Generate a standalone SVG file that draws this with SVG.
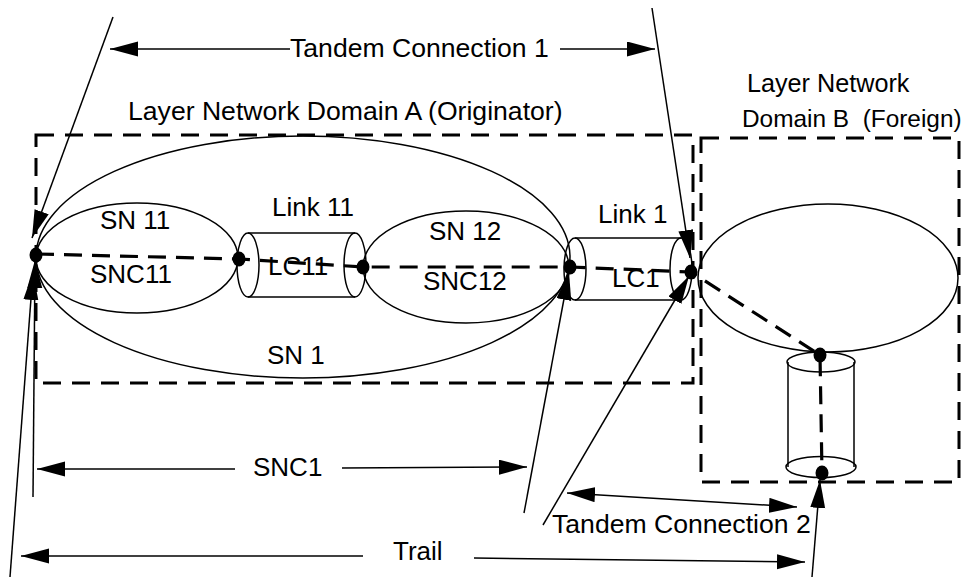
<svg xmlns="http://www.w3.org/2000/svg" width="967" height="579" viewBox="0 0 967 579">
<style>
text { font-family: "Liberation Sans", Arial, sans-serif; font-size: 26px; fill: #000; }
.big { font-size: 26.6px; }
.domb { font-size: 25.2px; }
.domb2 { font-size: 24.4px; }
.thin { fill: none; stroke: #000; stroke-width: 1.5; }
.box { fill: none; stroke: #000; stroke-width: 3; stroke-dasharray: 18 11; }
.path { fill: none; stroke: #000; stroke-width: 3.2; stroke-dasharray: 18 10; }
.arrow { fill: none; stroke: #000; stroke-width: 1.5; }
.dot { fill: #000; }
</style>
<defs>
<marker id="ah" markerUnits="userSpaceOnUse" markerWidth="30" markerHeight="16" refX="28" refY="7.5" orient="auto-start-reverse">
<path d="M0,0 L28,7.5 L0,15 z" fill="#000"/>
</marker>
</defs>

<g id="domainA">
<rect class="box" x="36" y="135" width="657" height="248"/>
<text class="big" x="128" y="120">Layer Network Domain A (Originator)</text>
</g>
<g id="domainB">
<rect class="box" x="701" y="138" width="258" height="344"/>
<text class="domb" x="747" y="92">Layer Network</text>
<text class="domb2" x="742" y="127" xml:space="preserve">Domain B  (Foreign)</text>
</g>

<g id="SN1">
<ellipse class="thin" cx="303" cy="257" rx="267" ry="121"/>
<text x="267" y="364">SN 1</text>
</g>
<g id="SN11">
<ellipse class="thin" cx="137" cy="258" rx="101" ry="55"/>
<text x="100" y="229">SN 11</text>
<text x="90" y="283">SNC11</text>
</g>
<g id="Link11">
<line class="thin" x1="248" y1="233" x2="355" y2="233"/>
<line class="thin" x1="248" y1="297" x2="355" y2="297"/>
<ellipse class="thin" cx="248" cy="265" rx="11" ry="32"/>
<ellipse class="thin" cx="355" cy="265" rx="11" ry="32"/>
<text x="272" y="216">Link 11</text>
<text x="268" y="275">LC11</text>
</g>
<g id="SN12">
<ellipse class="thin" cx="466" cy="267" rx="103" ry="56"/>
<text x="429" y="240">SN 12</text>
<text x="423" y="290">SNC12</text>
</g>
<g id="Link1">
<line class="thin" x1="575" y1="238" x2="681" y2="238"/>
<line class="thin" x1="575" y1="300" x2="681" y2="300"/>
<ellipse class="thin" cx="575" cy="269" rx="11" ry="31"/>
<ellipse class="thin" cx="681" cy="269" rx="11" ry="31"/>
<text x="598" y="223">Link 1</text>
<text x="612" y="287">LC1</text>
</g>
<g id="SNB">
<ellipse class="thin" cx="828" cy="278" rx="130" ry="74"/>
</g>
<g id="LinkB">
<line class="thin" x1="788" y1="362" x2="788" y2="467"/>
<line class="thin" x1="854" y1="362" x2="854" y2="467"/>
<ellipse class="thin" cx="821" cy="362" rx="34" ry="10"/>
<ellipse class="thin" cx="821" cy="467" rx="35" ry="10.5"/>
</g>

<g id="connectors">
<polyline class="path" points="36,254 239,259 363,267 570,267 691,272 820,355 822,473"/>
<line class="arrow" x1="290" y1="49" x2="110" y2="49" marker-end="url(#ah)"/>
<line class="arrow" x1="560" y1="49" x2="655" y2="49" marker-end="url(#ah)"/>
<text class="big" x="290" y="57">Tandem Connection 1</text>
<line class="arrow" x1="113" y1="17" x2="32" y2="238" marker-end="url(#ah)"/>
<line class="arrow" x1="652" y1="8" x2="690" y2="258" marker-end="url(#ah)"/>
<line class="arrow" x1="33" y1="497" x2="35" y2="260" marker-end="url(#ah)"/>
<line class="arrow" x1="10" y1="577" x2="33" y2="272" marker-end="url(#ah)"/>
<line class="arrow" x1="235" y1="469" x2="37" y2="469" marker-end="url(#ah)"/>
<line class="arrow" x1="342" y1="468" x2="527" y2="467" marker-end="url(#ah)"/>
<text x="253" y="476">SNC1</text>
<line class="arrow" x1="363" y1="556" x2="21" y2="556" marker-end="url(#ah)"/>
<line class="arrow" x1="474" y1="558" x2="805" y2="562" marker-end="url(#ah)"/>
<text x="393" y="560">Trail</text>
<line class="arrow" x1="524" y1="513" x2="569" y2="272" marker-end="url(#ah)"/>
<line class="arrow" x1="543" y1="525" x2="689" y2="276" marker-end="url(#ah)"/>
<line class="arrow" x1="567" y1="493" x2="797" y2="507" marker-start="url(#ah)" marker-end="url(#ah)"/>
<text class="big" x="552" y="533">Tandem Connection 2</text>
<line class="arrow" x1="812" y1="577" x2="820" y2="480" marker-end="url(#ah)"/>
</g>

<g id="points">
<ellipse class="dot" cx="36" cy="255" rx="6.5" ry="7.5"/>
<ellipse class="dot" cx="239" cy="259" rx="6.5" ry="7.5"/>
<ellipse class="dot" cx="363" cy="267" rx="6.5" ry="7.5"/>
<ellipse class="dot" cx="570" cy="267" rx="6.5" ry="7.5"/>
<ellipse class="dot" cx="691" cy="272" rx="6.5" ry="7.5"/>
<ellipse class="dot" cx="820" cy="355" rx="6.5" ry="7.5"/>
<ellipse class="dot" cx="822" cy="473" rx="6.5" ry="7.5"/>
</g>
</svg>
